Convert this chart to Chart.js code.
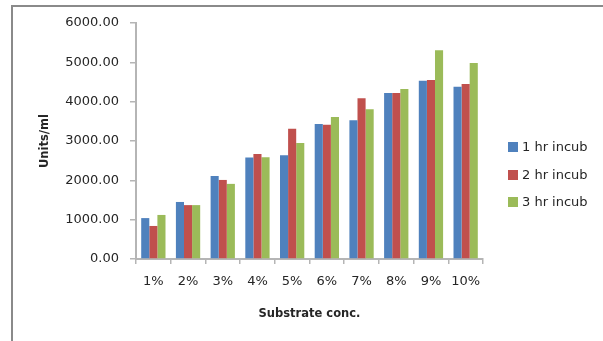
<!DOCTYPE html>
<html>
<head>
<meta charset="utf-8">
<script src="https://cdn.jsdelivr.net/npm/chart.js@4"></script>
<style>
  html, body { margin: 0; padding: 0; background: #fff; }
  #wrap { position: relative; width: 603px; height: 341px; }
  #frame { position: absolute; left: 11px; top: 5px; right: 0; bottom: 0;
           border-top: 2px solid #8a8a8a; border-left: 2px solid #8a8a8a; }
  canvas { position: absolute; left: 0; top: 0; }
</style>
</head>
<body>
<div id="wrap">
  <div id="frame"></div>
  <canvas id="c" width="603" height="341"></canvas>
</div>
<script>
const categories = ['1%', '2%', '3%', '4%', '5%', '6%', '7%', '8%', '9%', '10%'];
const seriesNames = ['1 hr incub', '2 hr incub', '3 hr incub'];
const oneHour   = [1040, 1450, 2110, 2580, 2640, 3430, 3530, 4220, 4530, 4380];
const twoHour   = [840, 1370, 2010, 2670, 3310, 3410, 4090, 4220, 4550, 4450];
const threeHour = [1120, 1370, 1910, 2590, 2950, 3610, 3810, 4320, 5310, 4980];
const yTicks = [0, 1000, 2000, 3000, 4000, 5000, 6000];
const colors = ['#4F81BD', '#C0504D', '#9BBB59'];

const FONT = 'DejaVu Sans';

// Legend drawn to the right of the plot, one row per dataset
const sideLegend = {
  id: 'sideLegend',
  afterDraw(chart) {
    const ctx = chart.ctx;
    ctx.save();
    ctx.font = '13px "' + FONT + '"';
    ctx.textBaseline = 'middle';
    ctx.textAlign = 'left';
    const rows = [147, 175, 202];
    chart.data.datasets.forEach((ds, i) => {
      ctx.fillStyle = ds.backgroundColor;
      ctx.fillRect(508, rows[i] - 5, 10, 10);
      ctx.fillStyle = '#262626';
      ctx.fillText(ds.label, 522, rows[i] + 1);
    });
    ctx.restore();
  }
};

new Chart(document.getElementById('c'), {
  type: 'bar',
  data: {
    labels: categories,
    datasets: [
      { label: seriesNames[0], data: oneHour,   backgroundColor: colors[0] },
      { label: seriesNames[1], data: twoHour,   backgroundColor: colors[1] },
      { label: seriesNames[2], data: threeHour, backgroundColor: colors[2] }
    ]
  },
  options: {
    responsive: false,
    animation: false,
    devicePixelRatio: 1,
    datasets: { bar: { categoryPercentage: 0.7, barPercentage: 1.0 } },
    layout: { padding: { top: 23, right: 120, left: 0, bottom: 0 } },
    plugins: { legend: { display: false }, tooltip: { enabled: false } },
    scales: {
      x: {
        grid: { display: true, drawOnChartArea: false, drawTicks: true, tickLength: 5,
                color: '#b5b5b5', lineWidth: 1.5, offset: true },
        border: { display: true, color: '#b5b5b5', width: 2 },
        ticks: { color: '#262626', font: { family: FONT, size: 13 }, padding: 10, maxRotation: 0 },
        title: { display: true, text: 'Substrate conc.', color: '#262626',
                 font: { family: FONT, size: 11.5, weight: 'bold' }, padding: { top: 0, bottom: 20 } },
        afterFit(scale) { scale.height = 82; }
      },
      y: {
        min: 0, max: 6000,
        afterBuildTicks(scale) { scale.ticks = yTicks.map(v => ({ value: v })); },
        grid: { display: true, drawOnChartArea: false, drawTicks: true, tickLength: 6,
                color: '#b5b5b5', lineWidth: 1.5 },
        border: { display: true, color: '#b5b5b5', width: 2 },
        ticks: { color: '#262626', font: { family: FONT, size: 13 }, padding: 11,
                 callback: v => Number(v).toFixed(2) },
        title: { display: true, text: 'Units/ml', color: '#262626',
                 font: { family: FONT, size: 11.5, weight: 'bold' }, padding: { top: 38, bottom: 0 } },
        afterFit(scale) { scale.width = 136; }
      }
    }
  },
  plugins: [sideLegend]
});
</script>
</body>
</html>
